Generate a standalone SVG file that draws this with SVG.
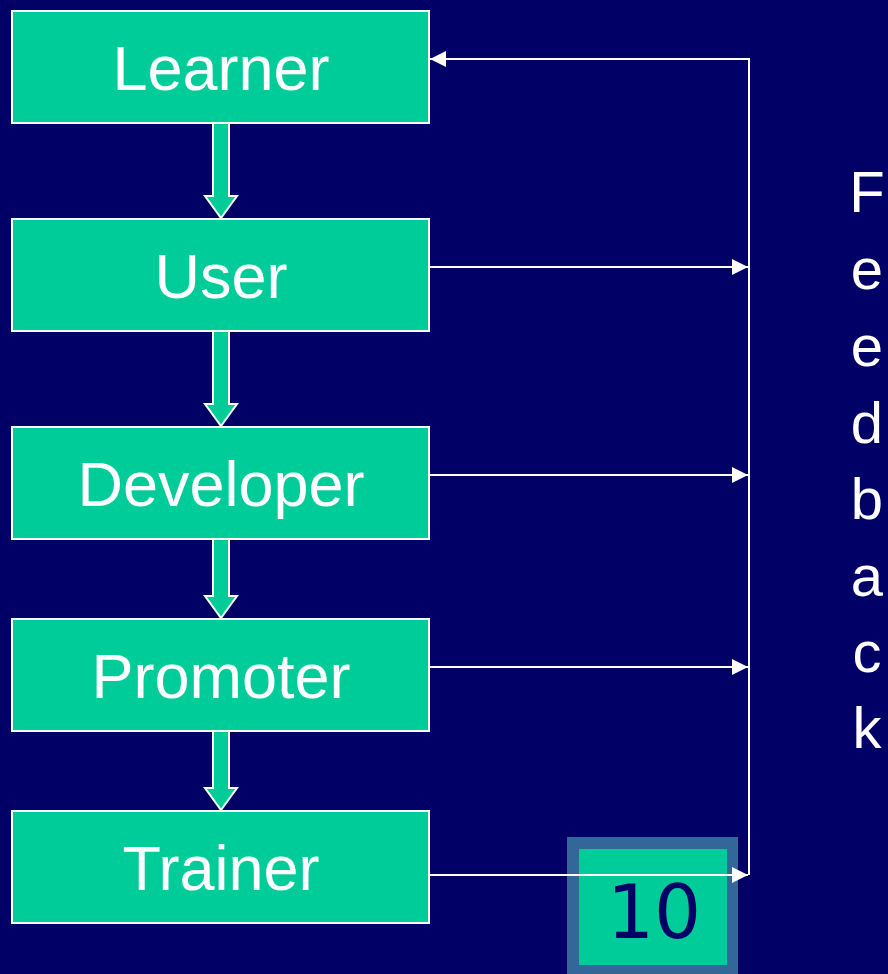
<svg xmlns="http://www.w3.org/2000/svg" width="888" height="974" viewBox="0 0 888 974">
<style>
.box{fill:#00CC99;stroke:#FFFFFF;stroke-width:2}
.lbl{font-family:"Liberation Sans",Arial,sans-serif;font-size:63px;fill:#FFFFFF;text-anchor:middle}
.fb{font-family:"Liberation Sans",Arial,sans-serif;font-size:58px;fill:#FFFFFF;text-anchor:middle}
.blk{fill:#00CC99;stroke:#FFFFFF;stroke-width:2;stroke-linejoin:miter}
.ln{stroke:#FFFFFF;stroke-width:2;fill:none}
</style>
<defs>
<marker id="ah" viewBox="0 0 16 16" refX="16" refY="8" markerWidth="16" markerHeight="16" markerUnits="userSpaceOnUse" orient="auto">
<path d="M0,0 L16,8 L0,16 Z" fill="#FFFFFF"/>
</marker>
</defs>
<rect width="888" height="974" fill="#000066"/>
<g id="connectors">
<path class="blk" d="M213,123 L229,123 L229,196 L237,196 L221,218 L205,196 L213,196 Z"/>
<path class="blk" d="M213,331 L229,331 L229,404 L237,404 L221,426 L205,404 L213,404 Z"/>
<path class="blk" d="M213,539 L229,539 L229,596 L237,596 L221,618 L205,596 L213,596 Z"/>
<path class="blk" d="M213,731 L229,731 L229,788 L237,788 L221,810 L205,788 L213,788 Z"/>
<polyline class="ln" points="749,875 749,59 430,59" marker-end="url(#ah)"/>
<line class="ln" x1="429" y1="267" x2="748" y2="267" marker-end="url(#ah)"/>
<line class="ln" x1="429" y1="475" x2="748" y2="475" marker-end="url(#ah)"/>
<line class="ln" x1="429" y1="667" x2="748" y2="667" marker-end="url(#ah)"/>
</g>
<g id="learner"><rect class="box" x="12" y="11" width="417" height="112"/><text class="lbl" x="221" y="90">Learner</text></g>
<g id="user"><rect class="box" x="12" y="219" width="417" height="112"/><text class="lbl" x="221" y="298">User</text></g>
<g id="developer"><rect class="box" x="12" y="427" width="417" height="112"/><text class="lbl" x="221" y="506">Developer</text></g>
<g id="promoter"><rect class="box" x="12" y="619" width="417" height="112"/><text class="lbl" x="221" y="698">Promoter</text></g>
<g id="trainer"><rect class="box" x="12" y="811" width="417" height="112"/><text class="lbl" x="221" y="890">Trainer</text></g>
<g id="page-number">
<rect x="567" y="837" width="171" height="137" fill="#336699"/>
<rect x="579" y="849" width="148" height="116" fill="#00CC99"/>
<text x="654" y="938" font-family="DejaVu Sans,Verdana,sans-serif" font-size="74" fill="#000066" text-anchor="middle">10</text>
</g>
<g id="trainer-feedback">
<line class="ln" x1="429" y1="875" x2="748" y2="875" marker-end="url(#ah)"/>
</g>
<g id="feedback-label">
<text class="fb" x="867" y="212">F</text>
<text class="fb" x="867" y="289">e</text>
<text class="fb" x="867" y="366">e</text>
<text class="fb" x="867" y="443">d</text>
<text class="fb" x="867" y="519">b</text>
<text class="fb" x="867" y="596">a</text>
<text class="fb" x="867" y="672">c</text>
<text class="fb" x="867" y="748">k</text>
</g>
</svg>
